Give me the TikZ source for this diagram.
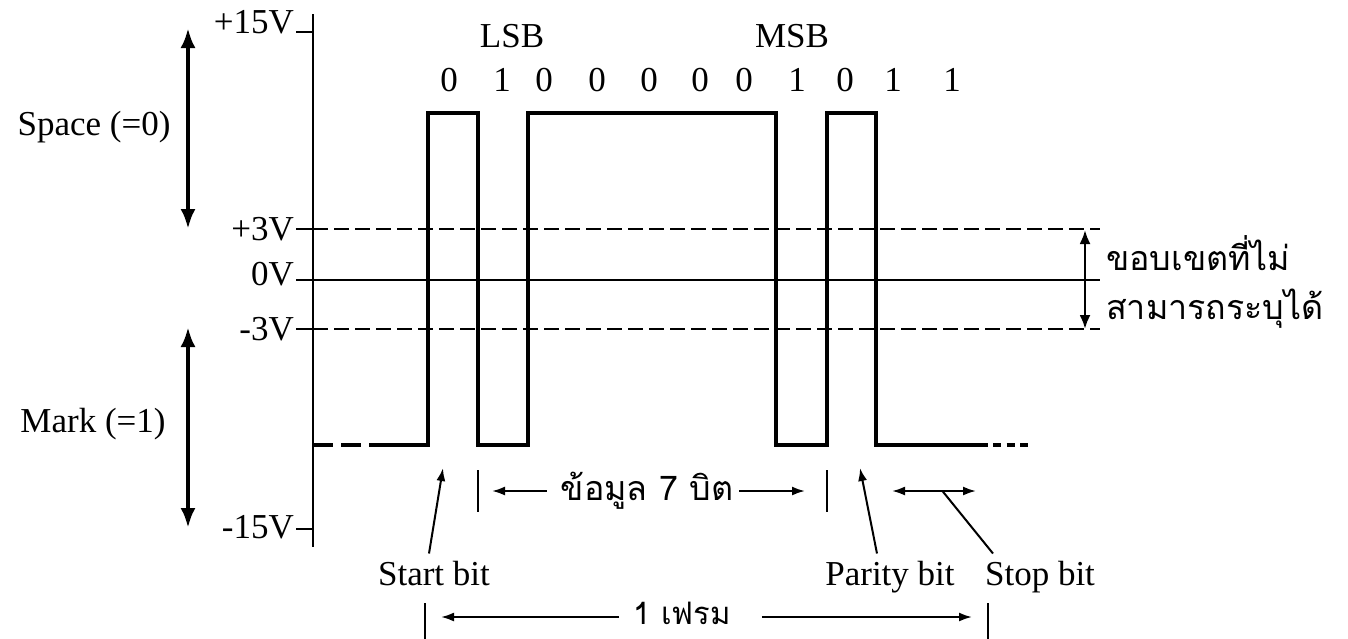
\documentclass[tikz,border=0pt]{standalone}
\usepackage{fontspec}
\setmainfont{Liberation Serif}
\newfontfamily\thaifont[Script=Thai]{Loma}
\usetikzlibrary{arrows.meta,positioning,calc}

\begin{document}
\begin{tikzpicture}[x=1pt, y=-1pt,
  lbl/.style={font=\fontsize{35}{40}\selectfont, inner sep=0pt},
  thai/.style={font=\thaifont\fontsize{34}{49}\selectfont, inner sep=0pt},
  thin/.style={line width=1.3pt},
  sig/.style={line width=3.5pt, line join=miter},
  big/.style={{Latex[length=20pt,width=15pt]}-{Latex[length=20pt,width=15pt]}, line width=4pt},
  mid/.style={{Latex[length=14pt,width=11pt]}-{Latex[length=14pt,width=11pt]}, line width=2.5pt},
  arrow/.style={-{Latex[length=13pt,width=9pt]}, line width=2pt}]
  \useasboundingbox (0,0) rectangle (1348,638);
  \draw[thin] (313,14) -- (313,547);
  \foreach \y/\t/\n in {33/+15V/vp15, 240/+3V/vp3, 285/0V/v0, 340/-3V/vm3, 538/-15V/vm15}
    \node[lbl, anchor=base east] (\n) at (294,\y) {\t};
  \foreach \y in {32,229,280,329,529}
    \draw[thin] (296,\y) -- (313,\y);
  \draw[thin, dash pattern=on 15pt off 6pt] (313,229) -- (1100,229);
  \draw[thin] (313,280) -- (1100,280);
  \draw[thin, dash pattern=on 15pt off 6pt] (313,329) -- (1100,329);
  \draw[sig, dash pattern=on 20pt off 8pt] (313,445) -- (361,445);
  \draw[sig] (369,445) -- (428,445) -- (428,113) -- (478,113) -- (478,445)
    -- (528,445) -- (528,113) -- (776,113) -- (776,445) -- (827,445)
    -- (827,113) -- (876,113) -- (876,445) -- (988,445);
  \draw[sig, dash pattern=on 8pt off 5.5pt] (993,445) -- (1028,445);
  \node[lbl] (lsb) at (512,36) {LSB};
  \node[lbl] (msb) at (792,36) {MSB};
  \foreach \x/\b in {449/0, 502/1, 544/0, 597/0, 649/0, 700/0, 744/0, 797/1, 845/0, 893/1, 952/1}
    \node[lbl] (b\x) at (\x,80) {\b};
  \node[lbl] (space) at (94,127) {Space (=0)};
  \node[lbl] (mark) at (93,424) {Mark (=1)};
  \coordinate (sp1) at (188,28);
  \coordinate (sp2) at (188,229);
  \coordinate (mk1) at (188,327);
  \coordinate (mk2) at (188,528);
  \draw[big] (sp1) -- (sp2);
  \draw[big] (mk1) -- (mk2);
  \coordinate (th1) at (1085,230);
  \coordinate (th2) at (1085,329);
  \draw[mid] (th1) -- (th2);
  \node[thai, align=left, anchor=west] (zone) at (1106,282) {ขอบเขตที่ไม่\\สามารถระบุได้};
  \draw[thin, line width=1.5pt] (478,470) -- (478,512);
  \draw[thin, line width=1.5pt] (827,470) -- (827,512);
  \node[thai] (data) at (647,491) {ข้อมูล 7 บิต};
  \coordinate (dl) at (492,491);
  \coordinate (dr) at (805,491);
  \draw[arrow] ([xshift=-14pt]data.west) -- (dl);
  \draw[arrow] ([xshift=6pt]data.east) -- (dr);
  \node[lbl, anchor=base] (start) at (434,585) {Start bit};
  \node[lbl, anchor=base] (parity) at (890,585) {Parity bit};
  \node[lbl, anchor=base] (stop) at (1040,585) {Stop bit};
  \coordinate (st) at (443,468);
  \coordinate (pt) at (860,468);
  \draw[arrow] ([xshift=-5pt,yshift=7pt]start.north) -- (st);
  \draw[arrow] ([xshift=-13pt,yshift=7pt]parity.north) -- (pt);
  \coordinate (s1) at (892,491);
  \coordinate (s2) at (976,491);
  \draw[{Latex[length=13pt,width=9pt]}-{Latex[length=13pt,width=9pt]}, line width=2pt] (s1) -- (s2);
  \draw[line width=2pt] ([xshift=-47pt,yshift=7pt]stop.north) -- ($(s1)!0.6!(s2)$);
  \draw[thin, line width=1.5pt] (425,603) -- (425,640);
  \draw[thin, line width=1.5pt] (988,603) -- (988,640);
  \node[thai, font=\thaifont\fontsize{31}{36}\selectfont] (frame) at (682,613) {1 เฟรม};
  \coordinate (fl) at (441,617);
  \coordinate (fr) at (972,617);
  \draw[arrow] ([xshift=-14pt]frame.west |- fl) -- (fl);
  \draw[arrow] ([xshift=31pt]frame.east |- fr) -- (fr);
\end{tikzpicture}
\end{document}
